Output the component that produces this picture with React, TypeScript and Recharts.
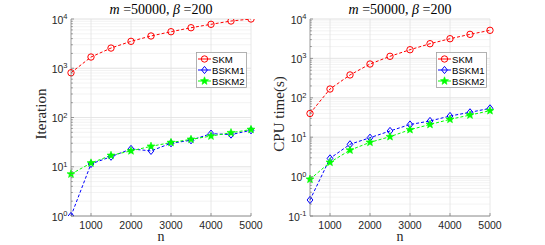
import React from "react"
import { LineChart, Line, XAxis, YAxis, CartesianGrid, ReferenceLine } from "recharts"

const nValues = [500, 1000, 1500, 2000, 2500, 3000, 3500, 4000, 4500, 5000]
const xTicks = [1000, 2000, 3000, 4000, 5000]

const iterSKM = [810, 1690, 2570, 3520, 4520, 5520, 6650, 7800, 9100, 10000]
const iterBSKM1 = [1, 11.4, 16, 23, 21, 30, 34.5, 47, 45, 55]
const iterBSKM2 = [7.1, 11.9, 17, 21, 26, 31, 36, 42, 49, 57]

const cpuSKM = [40, 167, 380, 720, 1130, 1660, 2360, 3160, 4080, 5160]
const cpuBSKM1 = [0.255, 2.9, 6.6, 9.7, 14.4, 21, 25.8, 34.5, 42.8, 54]
const cpuBSKM2 = [0.855, 2.3, 4.7, 7.4, 10.3, 15.5, 21, 28.4, 36.5, 47]

const iterDecades = [1, 10, 100, 1000, 10000]
const cpuDecades = [0.1, 1, 10, 100, 1000, 10000]

const seriesNames = ["SKM", "BSKM1", "BSKM2"]

const RED = "#ff0000"
const BLUE = "#0000ff"
const GREEN = "#00ff00"
const AXIS = "#808080"
const SERIF = "'Liberation Serif', 'DejaVu Serif', serif"
const SANS = "'Liberation Sans', Arial, sans-serif"

// minor tick values between the decades (2..9 x each decade)
function minorTicks(decades: number[]) {
  const out: number[] = []
  for (let i = 0; i < decades.length - 1; i++) {
    for (let k = 2; k <= 9; k++) out.push(+(decades[i] * k).toPrecision(3))
  }
  return out
}

function buildRows(a: number[], b: number[], c: number[]) {
  return nValues.map((n, i) => ({ n, skm: a[i], b1: b[i], b2: c[i] }))
}

const Circle = (props: any) => {
  const { cx, cy } = props
  if (cx == null || cy == null) return null
  return <circle cx={cx} cy={cy} r={3.2} fill="none" stroke={RED} strokeWidth={1} />
}

const Diamond = (props: any) => {
  const { cx, cy } = props
  if (cx == null || cy == null) return null
  const r = 3.6
  return (
    <polygon
      points={`${cx},${cy - r} ${cx + r * 0.8},${cy} ${cx},${cy + r} ${cx - r * 0.8},${cy}`}
      fill="none"
      stroke={BLUE}
      strokeWidth={1}
    />
  )
}

const starPoints = (cx: number, cy: number, R: number) => {
  const pts: string[] = []
  for (let i = 0; i < 10; i++) {
    const rad = i % 2 === 0 ? R : R * 0.42
    const a = -Math.PI / 2 + (i * Math.PI) / 5
    pts.push(`${cx + rad * Math.cos(a)},${cy + rad * Math.sin(a)}`)
  }
  return pts.join(" ")
}

const Star = (props: any) => {
  const { cx, cy } = props
  if (cx == null || cy == null) return null
  return <polygon points={starPoints(cx, cy, 4.2)} fill={GREEN} stroke={GREEN} strokeWidth={0.6} />
}

const YTick = (props: any) => {
  const { x, y, payload } = props
  const v = payload.value
  const lg = Math.log10(v)
  const exp = Math.round(lg)
  const major = Math.abs(lg - exp) < 1e-6
  return (
    <g>
      <line x1={x} x2={x + (major ? 3 : 1.8)} y1={y} y2={y} stroke={AXIS} strokeWidth={0.8} />
      {major && (
        <text x={x - 3.5} y={y + 4.5} textAnchor="end" fontSize={10.5} fill="#262626" fontFamily={SANS}>
          10
          <tspan dy={-4.5} fontSize={7.5}>{exp}</tspan>
        </text>
      )}
    </g>
  )
}

const XTick = (props: any) => {
  const { x, y, payload } = props
  return (
    <g>
      <line x1={x} x2={x} y1={y} y2={y - 3} stroke={AXIS} strokeWidth={0.8} />
      <text x={x} y={y + 13} textAnchor="middle" fontSize={10.5} fill="#262626" fontFamily={SANS}>
        {payload.value}
      </text>
    </g>
  )
}

const markers = [Circle, Diamond, Star]
const colors = [RED, BLUE, GREEN]

const LegendBox = ({ x }: { x: number }) => (
  <g>
    <rect x={x + 0.5} y={52.5} width={50} height={35} fill="#fff" stroke="#a0a0a0" strokeWidth={0.8} />
    {seriesNames.map((name, i) => {
      const cy = 59 + i * 11
      const Mark = markers[i]
      return (
        <g key={name}>
          <line x1={x + 2} x2={x + 15} y1={cy} y2={cy} stroke={colors[i]} strokeWidth={1} />
          <Mark cx={x + 8.5} cy={cy} />
          <text x={x + 16} y={cy + 3.5} fontSize={9.6} fill="#000" fontFamily={SANS}>
            {name}
          </text>
        </g>
      )
    })}
  </g>
)

type PanelProps = {
  left: number
  width: number
  yAxisWidth: number
  marginRight: number
  rows: any[]
  decades: number[]
  yLabel: string
  yLabelX: number
  legendLeft: number
}

const Panel = ({ left, width, yAxisWidth, marginRight, rows, decades, yLabel, yLabelX, legendLeft }: PanelProps) => {
  const minors = minorTicks(decades)
  const allTicks = [...decades, ...minors].sort((a, b) => a - b)
  const domain = [decades[0], decades[decades.length - 1]]
  const plotLeft = yAxisWidth
  const plotRight = width - marginRight
  return (
    <div style={{ position: "absolute", left, top: 0, width, height: 245 }}>
      <LineChart
        width={width}
        height={245}
        data={rows}
        margin={{ top: 19, right: marginRight, bottom: 0, left: 0 }}
      >
        <CartesianGrid stroke="#f0f0f0" strokeWidth={0.8} vertical={false} />
        {decades.map((d) => (
          <ReferenceLine key={"d" + d} y={d} stroke="#e2e2e2" strokeWidth={0.8} />
        ))}
        {xTicks.map((t) => (
          <ReferenceLine key={"x" + t} x={t} stroke="#e2e2e2" strokeWidth={0.8} />
        ))}
        <XAxis
          dataKey="n"
          type="number"
          domain={[500, 5000]}
          ticks={xTicks}
          height={29}
          tickSize={0}
          tickMargin={0}
          tickLine={false}
          axisLine={{ stroke: AXIS, strokeWidth: 0.8 }}
          tick={<XTick />}
        />
        <YAxis
          type="number"
          scale="log"
          domain={domain}
          allowDataOverflow
          ticks={allTicks}
          interval={0}
          width={yAxisWidth}
          tickSize={0}
          tickMargin={0}
          tickLine={false}
          axisLine={{ stroke: AXIS, strokeWidth: 0.8 }}
          tick={<YTick />}
        />
        <Line
          dataKey="skm"
          stroke={RED}
          strokeWidth={1}
          strokeDasharray="3 2"
          dot={<Circle />}
          activeDot={false}
          isAnimationActive={false}
        />
        <Line
          dataKey="b1"
          stroke={BLUE}
          strokeWidth={1}
          strokeDasharray="3 2"
          dot={<Diamond />}
          activeDot={false}
          isAnimationActive={false}
        />
        <Line
          dataKey="b2"
          stroke={GREEN}
          strokeWidth={1}
          strokeDasharray="3 2"
          dot={<Star />}
          activeDot={false}
          isAnimationActive={false}
        />
      </LineChart>
      <svg
        width={width}
        height={245}
        style={{ position: "absolute", left: 0, top: 0, pointerEvents: "none" }}
      >
        <LegendBox x={legendLeft} />
        <text
          x={(plotLeft + plotRight) / 2}
          y={13.5}
          textAnchor="middle"
          fontSize={14}
          fontFamily={SERIF}
          fill="#000"
        >
          <tspan fontStyle="italic">m</tspan> =50000, <tspan fontStyle="italic">β</tspan> =200
        </text>
        <text
          x={(plotLeft + plotRight) / 2}
          y={241}
          textAnchor="middle"
          fontSize={14}
          fontFamily={SERIF}
          fill="#262626"
        >
          n
        </text>
        <text
          transform={`translate(${yLabelX}, 114) rotate(-90)`}
          textAnchor="middle"
          fontSize={15}
          fontFamily={SERIF}
          fill="#262626"
        >
          {yLabel}
        </text>
      </svg>
    </div>
  )
}

export default function App() {
  return (
    <div style={{ position: "fixed", left: 0, top: 0, width: 545, height: 245, background: "#fff" }}>
      <Panel
        left={0}
        width={270}
        yAxisWidth={71}
        marginRight={19}
        rows={buildRows(iterSKM, iterBSKM1, iterBSKM2)}
        decades={iterDecades}
        yLabel="Iteration"
        yLabelX={46}
        legendLeft={196}
      />
      <Panel
        left={270}
        width={275}
        yAxisWidth={40}
        marginRight={55}
        rows={buildRows(cpuSKM, cpuBSKM1, cpuBSKM2)}
        decades={cpuDecades}
        yLabel="CPU time(s)"
        yLabelX={14}
        legendLeft={166}
      />
    </div>
  )
}
